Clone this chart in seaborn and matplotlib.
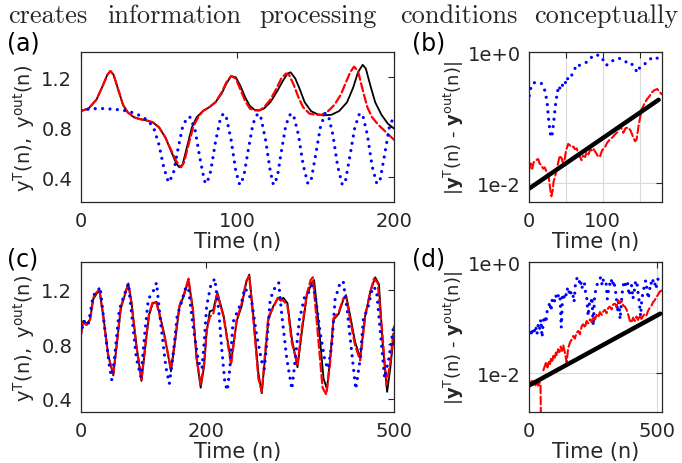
import numpy as np
import pandas as pd
import matplotlib
matplotlib.use("Agg")
import matplotlib.pyplot as plt
import seaborn as sns

# ---- panel (a): short run, n = 0..200 ----
ta_blk = [0, 5, 10, 14, 17, 19, 21, 24, 27, 30, 34, 38, 42, 46, 50, 54, 58, 61, 63, 65, 68, 71, 74, 78,
          82, 86, 90, 93, 96, 99, 102, 105, 108, 111, 114, 117, 121, 125, 129, 132, 134, 137, 140, 143,
          147, 151, 155, 160, 165, 170, 174, 177, 180, 182, 185, 188, 192, 196, 200]
ya_blk = [0.93, 0.95, 1.02, 1.13, 1.22, 1.25, 1.22, 1.10, 0.98, 0.92, 0.88, 0.865, 0.855, 0.84, 0.80,
          0.72, 0.60, 0.51, 0.48, 0.50, 0.65, 0.80, 0.88, 0.93, 0.96, 1.00, 1.07, 1.15, 1.21, 1.20, 1.13,
          1.04, 0.97, 0.94, 0.935, 0.95, 1.00, 1.08, 1.17, 1.23, 1.24, 1.19, 1.10, 1.00, 0.93, 0.905,
          0.895, 0.90, 0.93, 1.00, 1.12, 1.24, 1.30, 1.27, 1.13, 1.00, 0.90, 0.83, 0.79]
ta_red = [0, 5, 10, 14, 17, 19, 21, 24, 27, 30, 34, 38, 42, 46, 50, 54, 58, 61, 64, 66, 69, 72, 75, 78,
          82, 86, 90, 93, 96, 99, 102, 105, 108, 111, 114, 117, 121, 125, 128, 131, 133, 136, 139, 142,
          146, 150, 154, 158, 162, 166, 169, 172, 174.5, 177, 180, 183, 186, 190, 195, 200]
ya_red = [0.93, 0.95, 1.02, 1.13, 1.22, 1.25, 1.22, 1.10, 0.98, 0.92, 0.88, 0.865, 0.855, 0.84, 0.80,
          0.72, 0.61, 0.53, 0.48, 0.52, 0.67, 0.81, 0.88, 0.93, 0.96, 1.00, 1.08, 1.16, 1.21, 1.19, 1.10,
          1.01, 0.95, 0.935, 0.935, 0.96, 1.02, 1.11, 1.19, 1.23, 1.22, 1.14, 1.04, 0.96, 0.91, 0.90,
          0.90, 0.93, 0.98, 1.06, 1.15, 1.24, 1.285, 1.25, 1.10, 0.96, 0.88, 0.82, 0.76, 0.70]
ta_blu = [0, 5, 10, 15, 20, 25, 30, 35, 40, 44, 47, 50, 53, 56, 59, 62, 65, 68, 70, 73, 76, 79, 80.5,
          83, 86, 89, 91, 93, 96, 99, 101.5, 104, 107, 110, 113, 115, 118, 121, 123, 125.5, 128, 131,
          134, 136, 139, 142, 145, 147, 150, 153, 156, 158, 161, 164, 167, 169, 172, 175, 178, 180, 183,
          186, 189, 191, 194, 197, 200]
ya_blu = [0.93, 0.945, 0.95, 0.95, 0.945, 0.94, 0.93, 0.91, 0.88, 0.84, 0.78, 0.66, 0.48, 0.36, 0.42,
          0.62, 0.80, 0.88, 0.88, 0.78, 0.56, 0.37, 0.35, 0.45, 0.68, 0.86, 0.91, 0.88, 0.70, 0.45, 0.34,
          0.40, 0.62, 0.83, 0.91, 0.88, 0.70, 0.45, 0.34, 0.40, 0.60, 0.82, 0.91, 0.89, 0.74, 0.50, 0.35,
          0.37, 0.58, 0.80, 0.91, 0.90, 0.74, 0.49, 0.34, 0.37, 0.58, 0.80, 0.91, 0.90, 0.74, 0.49, 0.35,
          0.37, 0.58, 0.80, 0.89]

# ---- panel (b): error of short run ----
tb_blk = [0, 176]
eb_blk = [0.0083, 0.188]
tb_red = [0, 2, 4, 6, 9, 12, 14, 16, 19, 21, 24, 26, 28, 30, 32, 33, 35, 37, 39, 41.5, 44, 46, 48, 50,
          53, 55, 57.5, 60, 62, 64.5, 67, 69, 71, 73, 76, 78, 80.5, 83, 85, 87, 90, 93, 96, 99, 103, 106,
          110, 113, 117, 120, 124, 126, 128, 131, 135, 138, 141.5, 144, 146, 149, 153, 156, 160, 163,
          167, 170, 174, 177, 180]
eb_red = [0.0162, 0.020, 0.0166, 0.0209, 0.0224, 0.0234, 0.020, 0.019, 0.0166, 0.0174, 0.0145, 0.0138,
          0.0089, 0.0063, 0.0079, 0.0105, 0.0126, 0.0158, 0.020, 0.0263, 0.024, 0.020, 0.0229, 0.0316,
          0.0398, 0.038, 0.0355, 0.0363, 0.0331, 0.0339, 0.0282, 0.0251, 0.0224, 0.0263, 0.0251, 0.0295,
          0.0275, 0.0331, 0.0316, 0.0339, 0.030, 0.0263, 0.0251, 0.0316, 0.0355, 0.0417, 0.0468, 0.050,
          0.0562, 0.0603, 0.0759, 0.066, 0.0589, 0.0692, 0.0708, 0.063, 0.050, 0.0437, 0.0468, 0.079,
          0.135, 0.158, 0.191, 0.209, 0.245, 0.263, 0.275, 0.251, 0.229]
tb_blu = [0, 2, 4, 8, 12, 16, 19, 22, 24.5, 26.5, 28, 29.6, 31, 32.3, 34, 35.4, 37, 38.6, 40, 42, 44,
          46.7, 49, 51, 53, 55.5, 57, 59, 62, 65.6, 68, 71, 75, 78, 82, 85, 87, 90, 94, 97, 100, 103,
          105, 108, 112, 116, 121, 125, 128, 131, 134.6, 138, 141.5, 144, 147, 150, 153, 157, 162, 166,
          169, 173, 176, 181]
eb_blu = [0.217, 0.282, 0.331, 0.347, 0.347, 0.339, 0.302, 0.245, 0.158, 0.089, 0.063, 0.050, 0.054,
          0.071, 0.105, 0.151, 0.200, 0.263, 0.240, 0.302, 0.282, 0.363, 0.339, 0.417, 0.380, 0.398,
          0.437, 0.468, 0.562, 0.661, 0.631, 0.646, 0.676, 0.708, 0.759, 0.851, 0.891, 0.871, 0.912,
          0.851, 0.776, 0.708, 0.631, 0.692, 0.724, 0.776, 0.813, 0.794, 0.759, 0.724, 0.661, 0.676,
          0.631, 0.562, 0.490, 0.575, 0.631, 0.661, 0.741, 0.813, 0.851, 0.832, 0.776, 0.794]

# ---- panel (c): long run, n = 0..500 ----
tc_blk = [0, 4, 9.5, 15, 20, 25.5, 30, 36, 44, 52, 58, 64, 70.5, 76, 81, 89, 97, 104, 109, 115, 121,
          126.5, 134, 144, 150.5, 157.5, 165, 172, 179, 185, 191.5, 197, 201, 206, 211.5, 218, 228, 240,
          249, 257, 264, 269, 275.5, 283.5, 289, 294, 299.5, 307.5, 315.5, 319, 323.5, 330, 337, 346,
          353, 361, 369, 372.5, 379.5, 387.5, 393, 398, 403.5, 411.5, 419.5, 423.5, 430, 438, 446, 454,
          462, 470, 476, 482, 489, 494, 500]
yc_blk = [0.86, 0.97, 0.95, 0.98, 1.13, 1.17, 1.19, 1.01, 0.72, 0.57, 0.815, 1.06, 1.16, 1.245, 1.11,
          0.79, 0.53, 0.815, 1.01, 1.10, 1.11, 1.01, 0.86, 0.60, 0.815, 1.07, 1.16, 1.27, 1.06, 0.69,
          0.48, 0.64, 0.89, 1.04, 1.05, 1.18, 1.01, 0.67, 0.97, 1.08, 1.25, 1.31, 1.01, 0.59, 0.44,
          0.69, 0.98, 1.08, 1.14, 1.12, 1.14, 1.10, 0.84, 0.63, 0.89, 1.16, 1.25, 1.27, 0.96, 0.55,
          0.47, 0.69, 0.98, 1.02, 1.13, 1.16, 1.01, 0.815, 0.70, 1.01, 1.18, 1.29, 1.24, 0.80, 0.45,
          0.62, 0.88]
tc_red = [0, 4, 9.5, 15, 20, 25.5, 30, 36, 44, 52, 58, 64, 70.5, 76, 81, 89, 97, 104, 109, 115, 121,
          126.5, 134, 144, 150.5, 157.5, 165, 172, 179, 185, 191.5, 197, 201, 206, 211.5, 218, 228, 240,
          249, 257, 264, 269, 275.5, 283.5, 289, 294, 299.5, 307.5, 315.5, 319, 323.5, 330, 337, 346,
          353, 361, 367, 370.5, 378, 386, 392, 398, 403.5, 411.5, 419.5, 423.5, 430, 438, 446, 454,
          462, 468, 474, 481, 488, 494, 500]
yc_red = [0.86, 0.96, 0.94, 0.98, 1.14, 1.18, 1.20, 1.00, 0.71, 0.58, 0.82, 1.07, 1.17, 1.24, 1.10,
          0.78, 0.54, 0.83, 1.02, 1.11, 1.10, 1.00, 0.85, 0.62, 0.83, 1.08, 1.17, 1.28, 1.05, 0.70,
          0.50, 0.66, 0.90, 1.00, 1.02, 1.17, 1.00, 0.65, 0.98, 1.10, 1.26, 1.30, 0.98, 0.55, 0.45,
          0.72, 1.00, 1.07, 1.15, 1.12, 1.12, 1.08, 0.81, 0.65, 0.92, 1.17, 1.27, 1.29, 0.90, 0.48,
          0.43, 0.66, 0.99, 1.03, 1.14, 1.15, 0.98, 0.79, 0.68, 1.00, 1.18, 1.28, 1.25, 0.90, 0.50,
          0.66, 0.93]
tc_blu = [0, 5, 12, 20, 25.5, 31, 39, 45.5, 49.5, 54.5, 61.5, 68, 76, 81.5, 89, 96, 102.5, 108, 116,
          121, 128, 136, 141.5, 148, 154, 161, 168, 172, 179, 188, 193.5, 197, 201, 207.5, 214, 220,
          225, 230, 234, 238, 243, 251, 257, 262, 268, 273, 281, 289, 293, 297, 302.5, 310.5, 316,
          321, 329, 337, 342, 349, 358, 364, 369, 374, 382, 390, 395, 401, 406, 414, 419, 425, 433,
          439, 446, 451, 459, 466, 472, 478, 485, 492, 500]
yc_blu = [0.87, 0.97, 0.94, 1.16, 1.175, 1.22, 0.89, 0.65, 0.54, 0.72, 1.05, 1.14, 1.245, 1.01, 0.69,
          0.56, 0.89, 1.13, 1.19, 1.25, 0.94, 0.63, 0.51, 0.74, 1.01, 1.11, 1.22, 1.21, 0.94, 0.67,
          0.62, 0.81, 1.08, 1.23, 1.28, 1.06, 0.77, 0.52, 0.46, 0.62, 0.96, 1.05, 1.11, 1.21, 1.17,
          1.11, 0.86, 0.67, 0.62, 0.81, 1.13, 1.22, 1.25, 1.01, 0.69, 0.47, 0.67, 0.98, 1.16, 1.18,
          1.23, 1.17, 0.89, 0.67, 0.62, 0.81, 1.13, 1.25, 1.26, 1.06, 0.72, 0.47, 0.69, 0.98, 1.08,
          1.22, 1.20, 0.90, 0.55, 0.70, 0.95]

# ---- panel (d): error of long run ----
td_blk = [0, 512]
ed_blk = [0.006, 0.118]
td_red = [0, 5, 10, 15, 20, 25, 30, 35, 40, 44, 46, 47, 55, 61, 66, 71, 76, 81, 86, 90, 94, 99, 104,
          108, 113, 118, 123, 128, 133, 140, 146, 152, 159, 165, 172, 178, 185, 192, 198, 205, 211, 218,
          224, 231, 237, 244, 250, 257, 263, 270, 276, 283, 289, 296, 302, 309, 315, 322, 328, 335, 341,
          348, 354, 361, 367, 374, 380, 387, 393, 399, 406, 412, 419, 425, 432, 438, 445, 451, 458, 464,
          471, 478, 484, 491, 497, 504, 510, 517]
ed_red = [0.0068, 0.0063, 0.0072, 0.0060, 0.0071, 0.0058, 0.0066, 0.0059, 0.0068, 0.0063, 0.0005,
          np.nan, 0.0112, 0.0135, 0.0158, 0.0126, 0.0166, 0.0145, 0.019, 0.0166, 0.0204, 0.018, 0.0234,
          0.0209, 0.0269, 0.024, 0.030, 0.0251, 0.0316, 0.0224, 0.0155, 0.0282, 0.0355, 0.0398, 0.0468,
          0.0417, 0.0537, 0.0575, 0.050, 0.0708, 0.0759, 0.066, 0.087, 0.079, 0.093, 0.083, 0.105, 0.093,
          0.112, 0.102, 0.126, 0.112, 0.129, 0.138, 0.120, 0.151, 0.158, 0.141, 0.174, 0.178, 0.158,
          0.204, 0.182, 0.200, 0.166, 0.158, 0.141, 0.112, 0.089, 0.081, 0.100, 0.087, 0.105, 0.091,
          0.110, 0.095, 0.107, 0.117, 0.110, 0.132, 0.151, 0.166, 0.191, 0.209, 0.234, 0.263, 0.295,
          0.309]
td_blu = [0, 5, 10, 15, 20, 25, 30, 35, 40, 45, 50, 55, 60, 65, 70, 75, 80, 85, 90, 95, 100, 105, 110,
          115, 120, 125, 130, 135, 140, 145, 150, 155, 160, 165, 170, 175, 180, 185, 190, 195, 200, 205,
          210, 215, 220, 225, 230, 235, 240, 245, 250, 255, 260, 270, 280, 285, 290, 300, 305, 310, 320,
          325, 330, 340, 345, 350, 355, 360, 365, 370, 375, 380, 385, 390, 395, 400, 405, 410, 415, 420,
          425, 430, 435, 440, 445, 450, 455, 460, 465, 470, 475, 480, 485, 490, 495, 500, 505, 510, 515]
ed_blu = [0.054, 0.062, 0.047, 0.066, 0.058, 0.071, 0.050, 0.076, 0.062, 0.093, 0.044, 0.087, 0.107,
          0.081, 0.132, 0.151, 0.191, 0.132, 0.219, 0.234, 0.191, 0.251, 0.219, 0.269, 0.251, 0.066,
          0.251, 0.219, 0.288, 0.251, 0.355, 0.288, 0.331, 0.251, 0.269, 0.191, 0.380, 0.501, 0.537,
          0.437, 0.501, 0.331, 0.407, 0.437, 0.288, 0.219, 0.107, 0.178, 0.166, 0.234, 0.071, 0.219,
          0.331, 0.468, 0.537, 0.380, 0.501, 0.437, 0.219, 0.331, 0.501, 0.380, 0.468, 0.251, 0.126,
          0.219, 0.093, 0.191, 0.331, 0.437, 0.380, 0.468, 0.407, 0.251, 0.331, 0.380, 0.219, 0.288,
          0.437, 0.468, 0.288, 0.191, 0.107, 0.219, 0.288, 0.380, 0.468, 0.331, 0.219, 0.309, 0.437,
          0.380, 0.501, 0.437, 0.331, 0.437, 0.537, 0.501, 0.537]

header_words = ["creates", "information", "processing", "conditions", "conceptually"]
header_x = [8, 107, 259, 400, 534]

sns.set_style("white")
plt.rcParams["font.family"] = ["DejaVu Sans"]
plt.rcParams["mathtext.fontset"] = "dejavusans"
plt.rcParams["mathtext.default"] = "regular"

W, H = 682, 464
fig = plt.figure(figsize=(W / 100, H / 100), dpi=100)


def box(l, t, r, b):
    return [l / W, 1 - b / H, (r - l) / W, (b - t) / H]


ax_a = fig.add_axes(box(80.7, 53.3, 394, 203.3))
ax_b = fig.add_axes(box(529.3, 53.3, 662.3, 203.3))
ax_c = fig.add_axes(box(80.7, 263.3, 394, 413.3))
ax_d = fig.add_axes(box(529.3, 263.3, 662.3, 413.3))

DOT = (0, (0.01, 2.3))


def draw(ax, t, y, color, ls, lw):
    df = pd.DataFrame({"t": t, "y": y})
    df["seg"] = df["y"].isna().cumsum()
    df = df.dropna()
    sns.lineplot(data=df, x="t", y="y", units="seg", estimator=None, sort=False,
                 color=color, linestyle=ls, linewidth=lw, dash_capstyle="round",
                 ax=ax, legend=False)


for ax, t1, y1, t2, y2, t3, y3 in [(ax_a, ta_blk, ya_blk, ta_red, ya_red, ta_blu, ya_blu),
                                   (ax_c, tc_blk, yc_blk, tc_red, yc_red, tc_blu, yc_blu)]:
    draw(ax, t1, y1, "black", "-", 1.3)
    draw(ax, t2, y2, (1, 0, 0), "--", 1.6)
    draw(ax, t3, y3, (0, 0, 1), DOT, 2.3)

for ax, t1, y1, t2, y2, t3, y3 in [(ax_b, tb_blk, eb_blk, tb_red, eb_red, tb_blu, eb_blu),
                                   (ax_d, td_blk, ed_blk, td_red, ed_red, td_blu, ed_blu)]:
    ax.set_yscale("log")
    draw(ax, t3, y3, (0, 0, 1), DOT, 2.3)
    draw(ax, t2, y2, (1, 0, 0), "--", 1.5)
    draw(ax, t1, y1, "black", "-", 3.2)

GREY = "0.15"
for ax in [ax_a, ax_b, ax_c, ax_d]:
    for s in ax.spines.values():
        s.set_visible(True)
        s.set_color(GREY)
        s.set_linewidth(0.9)
    ax.tick_params(which="both", direction="in", top=True, right=True, labelsize=14,
                   colors=GREY, length=4, width=0.8, pad=6)
    ax.tick_params(which="minor", length=0)
    ax.set_xlabel("Time (n)", fontsize=15, color=GREY, labelpad=1)

ax_a.set_xlim(0, 200)
ax_a.set_ylim(0.2, 1.4)
ax_a.set_xticks([0, 100, 200])
ax_a.set_yticks([0.4, 0.8, 1.2])
ax_c.set_xlim(0, 500)
ax_c.set_ylim(0.3, 1.4)
ax_c.set_xticks([0, 200, 500])
ax_c.set_yticks([0.4, 0.8, 1.2])
for ax in [ax_a, ax_c]:
    ax.set_ylabel(r"$y^T(n),\ y^{out}(n)$", fontsize=14, color=GREY, labelpad=3)

ax_b.set_xlim(0, 181)
ax_b.set_ylim(0.0051, 1.0)
ax_b.set_xticks([0, 50, 100, 150])
ax_b.set_xticklabels(["0", "", "100", ""])
ax_d.set_xlim(0, 520)
ax_d.set_ylim(0.00195, 1.0)
ax_d.set_xticks([0, 500])
for ax in [ax_b, ax_d]:
    ax.set_yticks([0.01, 1.0])
    ax.set_yticklabels(["1e-2", "1e+0"])
    ax.grid(True, color="0.85", linewidth=0.8)
    ax.set_axisbelow(True)
    ax.set_ylabel(r"|$\mathbf{y}^T$(n) - $\mathbf{y}^{out}$(n)|", fontsize=13, color=GREY,
                  labelpad=1)

for lab, x, y in [("(a)", 7, 44), ("(b)", 412, 44), ("(c)", 7, 260), ("(d)", 412, 260)]:
    fig.text(x / W, 1 - y / H, lab, fontsize=17, color="black", va="center", ha="left")

for w, x in zip(header_words, header_x):
    fig.text(x / W, 1 - 23 / H, w, fontsize=19, family="cmr10", va="baseline", ha="left")

fig.savefig("out.png", dpi=100)
